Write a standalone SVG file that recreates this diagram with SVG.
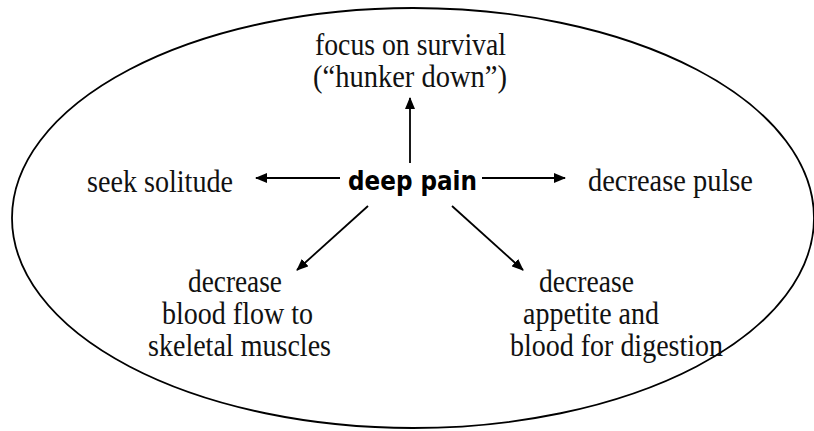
<svg xmlns="http://www.w3.org/2000/svg" width="814" height="431" viewBox="0 0 814 431">
<style>
.t{font-family:"Liberation Serif","Times New Roman",serif;font-size:31px;fill:#111}
.c{font-family:"Comic Sans MS","DejaVu Sans",sans-serif;font-size:27px;font-weight:bold;fill:#000}
.a{stroke:#000;stroke-width:1.8;fill:none;marker-end:url(#ah)}
</style>
<defs>
<marker id="ah" viewBox="0 0 12 10" refX="11" refY="5" markerWidth="12" markerHeight="10" markerUnits="userSpaceOnUse" orient="auto">
<path d="M0,0 L12,5 L0,10 Z" fill="#000"/>
</marker>
</defs>
<rect width="814" height="431" fill="#fff"/>
<ellipse id="boundary" cx="413" cy="218" rx="401" ry="210" fill="none" stroke="#000" stroke-width="1.8"/>
<g id="connectors">
<line class="a" x1="410" y1="163" x2="410" y2="98"/>
<line class="a" x1="340" y1="178" x2="256" y2="178"/>
<line class="a" x1="482" y1="178" x2="565" y2="178"/>
<line class="a" x1="368" y1="206" x2="297" y2="270"/>
<line class="a" x1="452" y1="206" x2="523" y2="270"/>
</g>
<g id="center"><text class="c" x="348" y="190" textLength="129" lengthAdjust="spacingAndGlyphs">deep pain</text></g>
<g id="top">
<text class="t" x="315" y="55" textLength="191" lengthAdjust="spacingAndGlyphs">focus on survival</text>
<text class="t" x="313" y="87" textLength="194" lengthAdjust="spacingAndGlyphs">(“hunker down”)</text>
</g>
<g id="left"><text class="t" x="87" y="192" textLength="146" lengthAdjust="spacingAndGlyphs">seek solitude</text></g>
<g id="right"><text class="t" x="588" y="191" textLength="165" lengthAdjust="spacingAndGlyphs">decrease pulse</text></g>
<g id="bottom-left">
<text class="t" x="188" y="292" textLength="94" lengthAdjust="spacingAndGlyphs">decrease</text>
<text class="t" x="162" y="324" textLength="151" lengthAdjust="spacingAndGlyphs">blood flow to</text>
<text class="t" x="148" y="356" textLength="183" lengthAdjust="spacingAndGlyphs">skeletal muscles</text>
</g>
<g id="bottom-right">
<text class="t" x="539" y="292" textLength="95" lengthAdjust="spacingAndGlyphs">decrease</text>
<text class="t" x="523" y="324" textLength="136" lengthAdjust="spacingAndGlyphs">appetite and</text>
<text class="t" x="510" y="356" textLength="213" lengthAdjust="spacingAndGlyphs">blood for digestion</text>
</g>
</svg>
